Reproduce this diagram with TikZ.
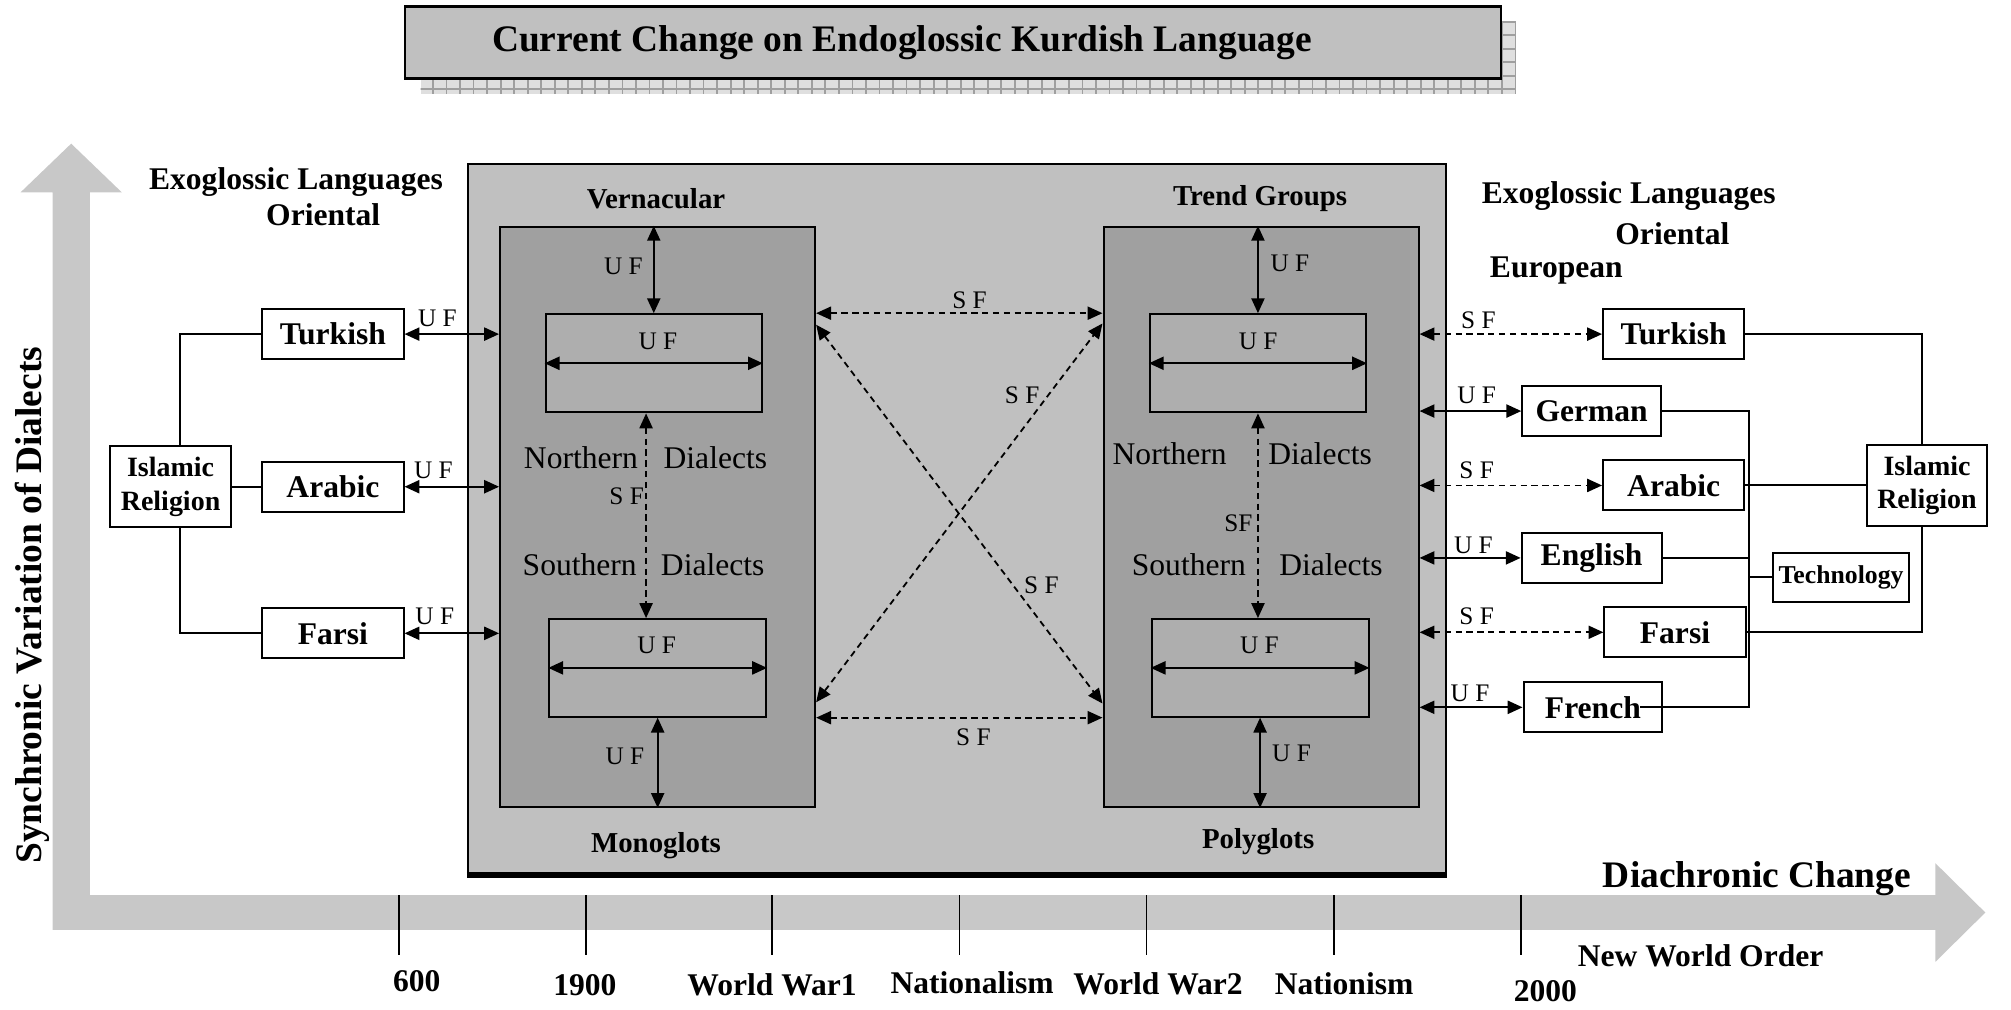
\documentclass[tikz,border=0pt]{standalone}
\usepackage{fontspec}
\setmainfont{Liberation Serif}
\usetikzlibrary{arrows.meta,patterns}

\begin{document}
\begin{tikzpicture}[x=0.01cm,y=-0.01cm,
    tip/.tip={Triangle[length=3.3pt,width=2.9pt]},
    uf/.style={tip-tip,line width=0.45pt},
    sf/.style={tip-tip,line width=0.4pt,dash pattern=on 1.4pt off 1pt},
    link/.style={line width=0.45pt},
    lang/.style={draw,fill=white,line width=0.45pt,inner sep=0pt,minimum height=0.39cm,font=\fontsize{7}{8}\selectfont\bfseries},
    relbox/.style={draw,fill=white,line width=0.45pt,inner sep=0pt,align=center,minimum width=0.94cm,minimum height=0.63cm,font=\fontsize{6.2}{7.4}\selectfont\bfseries},
    head/.style={inner sep=0pt,font=\fontsize{7}{8}\selectfont\bfseries},
    grp/.style={inner sep=0pt,font=\fontsize{6.4}{7}\selectfont\bfseries},
    dial/.style={inner sep=0pt,font=\fontsize{7}{8}\selectfont},
    lbl/.style={inner sep=0pt,font=\fontsize{5.6}{6}\selectfont},
    axlbl/.style={inner sep=0pt,font=\fontsize{8.3}{9}\selectfont\bfseries},
    tick/.style={inner sep=0pt,font=\fontsize{7}{8}\selectfont\bfseries}]
\definecolor{cOut}{RGB}{192,192,192}
\definecolor{cDark}{RGB}{160,160,160}
\definecolor{cIn}{RGB}{174,174,174}
\definecolor{cAx}{RGB}{200,200,200}
\useasboundingbox (0,0) rectangle (1568,787);

% axes
\fill[cAx] (16,150) -- (55.5,112) -- (95,150) -- (70,150) -- (70,698) -- (1509,698) -- (1509,673)
    -- (1548,711.5) -- (1509,750) -- (1509,725) -- (41,725) -- (41,150) -- cycle;
\foreach \x in {311,457,602,748,894,1040,1186}{
    \draw[line width=0.35pt] (\x,698) -- (\x,745);
}
\foreach \x/\y/\t/\n in {325/765/600/a, 456/768/1900/b, 602/768/{World War1}/c, 758/766/Nationalism/d,
    903/767/{World War2}/e, 1048/767/Nationism/f, 1205/773/2000/g}{
    \node[tick] (tk\n) at (\x,\y) {\t};
}
\node[axlbl,rotate=90] (synch) at (25,472) {Synchronic Variation of Dialects};
\node[axlbl] (diach) at (1370,685) {Diachronic Change};
\node[tick] (nwo) at (1326,745) {New World Order};

% title
\fill[gray!25] (328,17) rectangle (1182,73);
\fill[pattern=grid,pattern color=gray!75] (328,17) rectangle (1182,73);
\node[draw,fill=cOut,line width=0.6pt,inner sep=0pt,minimum width=8.54cm,minimum height=0.56cm] (title) at (743,33) {};
\node[anchor=west,inner sep=0pt,font=\fontsize{8.3}{10}\selectfont\bfseries] (titletxt) at (383,33)
    {Current Change on Endoglossic Kurdish Language};

% endoglossic block
\node[draw,fill=cOut,line width=0.45pt,inner sep=0pt,minimum width=7.62cm,minimum height=5.53cm] (kurd) at (746,404.5) {};
\draw[line width=1.3pt] (kurd.south west) -- (kurd.south east);
\node[draw,fill=cDark,line width=0.45pt,inner sep=0pt,minimum width=2.455cm,minimum height=4.52cm] (vern) at (512.75,403) {};
\node[draw,fill=cDark,line width=0.45pt,inner sep=0pt,minimum width=2.455cm,minimum height=4.52cm] (trend) at (983.25,403) {};
\node[draw,fill=cIn,line width=0.45pt,inner sep=0pt,minimum width=1.685cm,minimum height=0.765cm] (vernN) at (509.75,283.25) {};
\node[draw,fill=cIn,line width=0.45pt,inner sep=0pt,minimum width=1.69cm,minimum height=0.76cm] (vernS) at (512.8,520.75) {};
\node[draw,fill=cIn,line width=0.45pt,inner sep=0pt,minimum width=1.685cm,minimum height=0.765cm] (trendN) at (980.85,283.25) {};
\node[draw,fill=cIn,line width=0.45pt,inner sep=0pt,minimum width=1.69cm,minimum height=0.76cm] (trendS) at (982.5,520.75) {};

\node[grp] (vernT) at (511.5,155) {Vernacular};
\node[grp] (trendT) at (982.5,155) {Trend Groups};
\node[grp] (monoT) at (511.5,659) {Monoglots};
\node[grp] (polyT) at (981,656.5) {Polyglots};

\node[dial] (vNorth) at (453,357) {Northern};
\node[dial] (vNorthD) at (557.8,357) {Dialects};
\node[dial] (vSouth) at (452,440.6) {Southern};
\node[dial] (vSouthD) at (555.7,440.6) {Dialects};
\node[dial] (tNorth) at (912,353.5) {Northern};
\node[dial] (tNorthD) at (1029.3,353.5) {Dialects};
\node[dial] (tSouth) at (927,440.6) {Southern};
\node[dial] (tSouthD) at (1037.8,440.6) {Dialects};

\draw[uf] (vernN.west) -- (vernN.east);
\draw[uf] (vernS.west) -- (vernS.east);
\draw[uf] (trendN.west) -- (trendN.east);
\draw[uf] (trendS.west) -- (trendS.east);
\node[lbl] (ufVN) at (513,266.5) {U F};
\node[lbl] (ufVS) at (512,503) {U F};
\node[lbl] (ufTN) at (981,266) {U F};
\node[lbl] (ufTS) at (982,503) {U F};

\draw[uf] (vernN.north |- vern.north) -- (vernN.north);
\draw[uf] (vernS.south) -- (vernS.south |- vern.south);
\draw[uf] (trendN.north |- trend.north) -- (trendN.north);
\draw[uf] (trendS.south) -- (trendS.south |- trend.south);
\node[lbl] (ufV1) at (486,208) {U F};
\node[lbl] (ufV2) at (487.3,590) {U F};
\node[lbl] (ufT1) at (1005.8,205.3) {U F};
\node[lbl] (ufT2) at (1007,587.4) {U F};

\coordinate (sfV) at ([xshift=-0.06cm]vernN.south);
\draw[sf] (sfV) -- (sfV |- vernS.north);
\draw[sf] (trendN.south) -- (trendN.south |- trendS.north);
\node[lbl] (sfVl) at (488.6,387) {S F};
\node[lbl] (sfTl) at (965.6,408) {SF};

\coordinate (vTop) at (vern.east |- vernN.north);
\coordinate (vBot) at (vern.east |- vernS.south);
\coordinate (tTop) at (trend.west |- vernN.north);
\coordinate (tBot) at (trend.west |- vernS.south);
\draw[sf] (vTop) -- (tTop);
\draw[sf] (vBot) -- (tBot);
\draw[sf] ([yshift=-0.09cm]vTop) -- ([yshift=0.11cm]tBot);
\draw[sf] ([yshift=0.12cm]vBot) -- ([yshift=-0.08cm]tTop);
\node[lbl] (sfTop) at (756,234) {S F};
\node[lbl] (sfBot) at (759,575) {S F};
\node[lbl] (sfD1) at (797,308) {S F};
\node[lbl] (sfD2) at (812,456) {S F};

% oriental languages, left
\node[head] (exoL) at (230.8,141.7) {Exoglossic Languages};
\node[head] (oriL) at (252,167.6) {Oriental};
\node[lang,minimum width=1.1cm] (turkL) at (259.6,260.5) {Turkish};
\node[lang,minimum width=1.1cm] (arabL) at (259.6,379.5) {Arabic};
\node[lang,minimum width=1.1cm] (farsL) at (259.6,493.8) {Farsi};
\node[relbox] (islamL) at (133,379.5) {Islamic\\Religion};

\draw[link] (turkL.west) -| ([xshift=0.07cm]islamL.north);
\draw[link] ([xshift=0.07cm]islamL.south) |- (farsL.west);
\draw[link] (islamL.east) -- (arabL.west);

\draw[uf] (turkL.east) -- (turkL.east -| vern.west);
\draw[uf] (arabL.east) -- (arabL.east -| vern.west);
\draw[uf] (farsL.east) -- (farsL.east -| vern.west);
\node[lbl] (ufL1) at (341,248.2) {U F};
\node[lbl] (ufL2) at (338,366.5) {U F};
\node[lbl] (ufL3) at (339,480.8) {U F};

% exoglossic languages, right
\node[head] (exoR) at (1270,153) {Exoglossic Languages};
\node[head] (oriR) at (1304,182) {Oriental};
\node[head] (euro) at (1213.5,211) {European};
\node[lang,minimum width=1.1cm] (turkR) at (1305,260.5) {Turkish};
\node[lang,minimum width=1.08cm] (germ) at (1241,320.5) {German};
\node[lang,minimum width=1.1cm] (arabR) at (1305,378.5) {Arabic};
\node[lang,minimum width=1.09cm] (engl) at (1241,435) {English};
\node[lang,minimum width=1.1cm] (farsR) at (1306,493) {Farsi};
\node[lang,minimum width=1.08cm] (fren) at (1242,551.5) {French};
\node[relbox] (islamR) at (1502.5,378.5) {Islamic\\Religion};
\node[draw,fill=white,line width=0.45pt,inner sep=0pt,minimum width=1.06cm,minimum height=0.38cm,
    font=\fontsize{5.7}{6}\selectfont\bfseries] (tech) at (1435.5,450) {Technology};

\draw[sf] (trend.east |- turkR.west) -- (turkR.west);
\draw[uf] (trend.east |- germ.west) -- (germ.west);
\draw[sf] (trend.east |- arabR.west) -- (arabR.west);
\draw[uf] (trend.east |- engl.west) -- (engl.west);
\draw[sf] (trend.east |- farsR.west) -- (farsR.west);
\draw[uf] (trend.east |- fren.west) -- (fren.west);
\node[lbl] (sfR1) at (1152.7,249.5) {S F};
\node[lbl] (ufR1) at (1151.4,308) {U F};
\node[lbl] (sfR2) at (1151.4,366.5) {S F};
\node[lbl] (ufR2) at (1148.8,425) {U F};
\node[lbl] (sfR3) at (1151.4,480.8) {S F};
\node[lbl] (ufR3) at (1146.2,540.6) {U F};

\coordinate (bus) at (1364,450);
\draw[link] (germ.east) -| (bus |- fren.east) -- ([xshift=-0.18cm]fren.east);
\draw[link] (engl.east) -- (engl.east -| bus);
\draw[link] (bus) -- (tech.west);
\draw[link] (turkR.east) -| ([xshift=-0.04cm]islamR.north);
\draw[link] ([xshift=-0.04cm]islamR.south) |- (farsR.east);
\draw[link] (arabR.east) -- (islamR.west);
\end{tikzpicture}
\end{document}
